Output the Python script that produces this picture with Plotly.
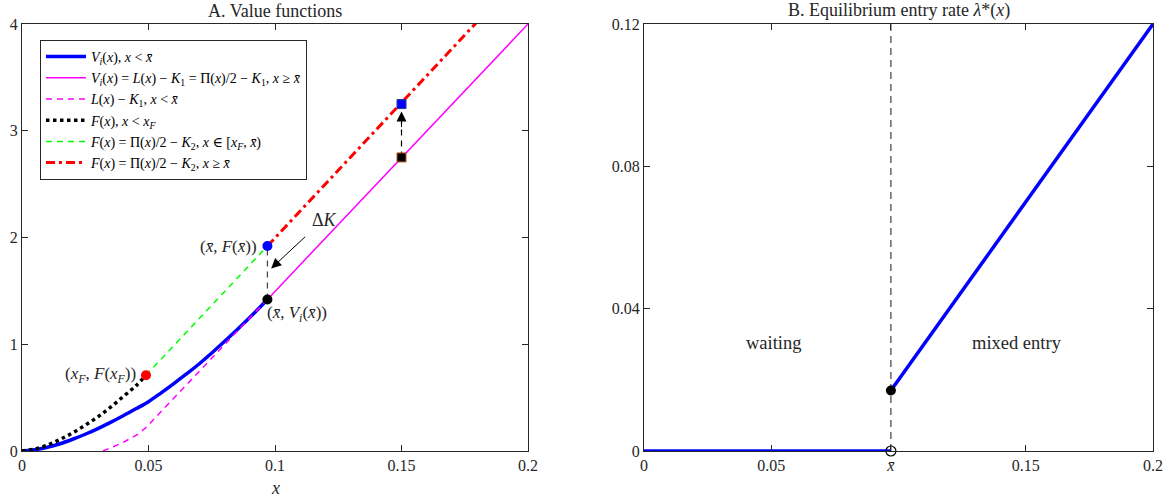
import plotly.graph_objects as go

# ---------------- data ----------------
x_bar = 0.097
x_F = 0.049

# Panel A
vi_below_x = [0, 0.005, 0.01, 0.015, 0.02, 0.025, 0.03, 0.035, 0.04, 0.045, 0.05, 0.055,
              0.06, 0.065, 0.07, 0.075, 0.08, 0.085, 0.09, 0.097]
vi_below_y = [0, 0.012, 0.035, 0.068, 0.11, 0.157, 0.21, 0.268, 0.33, 0.395, 0.462, 0.545,
              0.632, 0.722, 0.815, 0.918, 1.025, 1.135, 1.25, 1.42]

vi_above_x = [0.097, 0.2]
vi_above_y = [1.42, 4.0]

l_below_x = [0.032, 0.040, 0.046, 0.049, 0.097]
l_below_y = [0.0, 0.08, 0.16, 0.22, 1.42]

f_below_x = [0, 0.005, 0.01, 0.015, 0.02, 0.025, 0.03, 0.035, 0.04, 0.045, 0.049]
f_below_y = [0, 0.018, 0.055, 0.108, 0.17, 0.242, 0.32, 0.41, 0.51, 0.61, 0.71]

f_mid_x = [0.049, 0.097]
f_mid_y = [0.71, 1.92]

f_above_x = [0.097, 0.2]
f_above_y = [1.92, 4.53]

pt_F_xbar = (0.097, 1.92)
pt_V_xbar = (0.097, 1.42)
pt_F_xF = (0.049, 0.71)
sq_top = (0.15, 3.25)
sq_bot = (0.15, 2.75)

# Panel B
lam_wait_x = [0, 0.097]
lam_wait_y = [0, 0]
lam_mix_x = [0.097, 0.2]
lam_mix_y = [0.017, 0.12]

ticks_A_x = [0, 0.05, 0.1, 0.15, 0.2]
ticks_A_xt = ["0", "0.05", "0.1", "0.15", "0.2"]
ticks_A_y = [0, 1, 2, 3, 4]
ticks_B_x = [0, 0.05, 0.097, 0.15, 0.2]
ticks_B_xt = ["0", "0.05", "<i>x̄</i>", "0.15", "0.2"]
ticks_B_y = [0, 0.04, 0.08, 0.12]
ticks_B_yt = ["0", "0.04", "0.08", "0.12"]

FONT = "Liberation Serif, Times New Roman, DejaVu Serif, serif"
TXT = "#262626"

fig = go.Figure()

# ---------- Panel A traces ----------
fig.add_trace(go.Scatter(x=vi_below_x, y=vi_below_y, mode="lines", line_shape="spline",
    line=dict(color="#0000ff", width=3.5),
    name="<i>V<sub>i</sub></i>(<i>x</i>), <i>x</i> &lt; <i>x̄</i>", xaxis="x", yaxis="y"))
fig.add_trace(go.Scatter(x=vi_above_x, y=vi_above_y, mode="lines",
    line=dict(color="#ff00ff", width=1.5),
    name="<i>V<sub>i</sub></i>(<i>x</i>) = <i>L</i>(<i>x</i>) − <i>K</i><sub>1</sub> = Π(<i>x</i>)/2 − <i>K</i><sub>1</sub>, <i>x</i> ≥ <i>x̄</i>",
    xaxis="x", yaxis="y"))
fig.add_trace(go.Scatter(x=l_below_x, y=l_below_y, mode="lines",
    line=dict(color="#ff00ff", width=1.5, dash="6px,5px"),
    name="<i>L</i>(<i>x</i>) − <i>K</i><sub>1</sub>, <i>x</i> &lt; <i>x̄</i>", xaxis="x", yaxis="y"))
fig.add_trace(go.Scatter(x=f_below_x, y=f_below_y, mode="lines", line_shape="spline",
    line=dict(color="#000000", width=3.5, dash="dot"),
    name="<i>F</i>(<i>x</i>), <i>x</i> &lt; <i>x<sub>F</sub></i>", xaxis="x", yaxis="y"))
fig.add_trace(go.Scatter(x=f_mid_x, y=f_mid_y, mode="lines",
    line=dict(color="#00ff00", width=1.5, dash="6px,5px"),
    name="<i>F</i>(<i>x</i>) = Π(<i>x</i>)/2 − <i>K</i><sub>2</sub>, <i>x</i> ∈ [<i>x<sub>F</sub></i>, <i>x̄</i>)",
    xaxis="x", yaxis="y"))
fig.add_trace(go.Scatter(x=f_above_x, y=f_above_y, mode="lines",
    line=dict(color="#ff0000", width=3, dash="9px,4px,3px,4px"),
    name="<i>F</i>(<i>x</i>) = Π(<i>x</i>)/2 − <i>K</i><sub>2</sub>, <i>x</i> ≥ <i>x̄</i>",
    xaxis="x", yaxis="y"))

# markers panel A
fig.add_trace(go.Scatter(x=[pt_F_xbar[0]], y=[pt_F_xbar[1]], mode="markers",
    marker=dict(color="#0000ff", size=10), showlegend=False, xaxis="x", yaxis="y"))
fig.add_trace(go.Scatter(x=[pt_V_xbar[0]], y=[pt_V_xbar[1]], mode="markers",
    marker=dict(color="#000000", size=10), showlegend=False, xaxis="x", yaxis="y"))
fig.add_trace(go.Scatter(x=[pt_F_xF[0]], y=[pt_F_xF[1]], mode="markers",
    marker=dict(color="#ff0000", size=10), showlegend=False, xaxis="x", yaxis="y"))
fig.add_trace(go.Scatter(x=[sq_top[0]], y=[sq_top[1]], mode="markers",
    marker=dict(color="#0000ff", size=9, symbol="square", line=dict(color="#1f3a93", width=1)),
    showlegend=False, xaxis="x", yaxis="y"))
fig.add_trace(go.Scatter(x=[sq_bot[0]], y=[sq_bot[1]], mode="markers",
    marker=dict(color="#000000", size=9, symbol="square", line=dict(color="#c0501f", width=1)),
    showlegend=False, xaxis="x", yaxis="y"))

# ---------- Panel B traces ----------
fig.add_trace(go.Scatter(x=lam_wait_x, y=lam_wait_y, mode="lines",
    line=dict(color="#0000ff", width=3.5), showlegend=False, xaxis="x2", yaxis="y2", cliponaxis=False))
fig.add_trace(go.Scatter(x=lam_mix_x, y=lam_mix_y, mode="lines",
    line=dict(color="#0000ff", width=3.5), showlegend=False, xaxis="x2", yaxis="y2", cliponaxis=False))
fig.add_trace(go.Scatter(x=[lam_mix_x[0]], y=[lam_mix_y[0]], mode="markers",
    marker=dict(color="#000000", size=10), showlegend=False, xaxis="x2", yaxis="y2"))
fig.add_trace(go.Scatter(x=[lam_wait_x[1]], y=[lam_wait_y[1]], mode="markers",
    marker=dict(color="rgba(0,0,0,0)", size=10, line=dict(color="#000000", width=1.2)),
    showlegend=False, xaxis="x2", yaxis="y2", cliponaxis=False))

shapes = [
    dict(type="line", xref="x", yref="y", x0=pt_V_xbar[0], x1=pt_V_xbar[0],
         y0=pt_V_xbar[1], y1=pt_F_xbar[1], line=dict(color="#404040", width=1.2, dash="6px,5px"), layer="below"),
    dict(type="line", xref="x", yref="y", x0=sq_bot[0], x1=sq_bot[0],
         y0=sq_bot[1], y1=sq_top[1] - 0.1, line=dict(color="#000000", width=1.2, dash="6px,5px"), layer="below"),
    dict(type="line", xref="x2", yref="y2", x0=x_bar, x1=x_bar, y0=0, y1=0.12,
         line=dict(color="#404040", width=1.2, dash="7px,5px"), layer="below"),
]

ax_common = dict(showline=True, linecolor="#262626", linewidth=1, mirror="ticks",
                 ticks="inside", ticklen=6, tickcolor="#262626", showgrid=False,
                 zeroline=False, automargin=False,
                 tickfont=dict(family=FONT, size=16, color=TXT))

annotations = [
    dict(text="A. Value functions", x=0.2237, y=1.0, xref="paper", yref="paper",
         xanchor="center", yanchor="bottom", yshift=1, showarrow=False,
         font=dict(family=FONT, size=18, color=TXT)),
    dict(text="B. Equilibrium entry rate <i>λ</i>*(<i>x</i>)", x=0.775, y=1.0,
         xref="paper", yref="paper", xanchor="center", yanchor="bottom", yshift=1, showarrow=False,
         font=dict(family=FONT, size=18, color=TXT)),
    dict(text="(<i>x̄</i>, <i>F</i>(<i>x̄</i>))", x=pt_F_xbar[0], y=pt_F_xbar[1], xref="x", yref="y",
         xanchor="right", xshift=-8, showarrow=False, font=dict(family=FONT, size=17, color=TXT)),
    dict(text="(<i>x̄</i>, <i>V<sub>i</sub></i>(<i>x̄</i>))", x=pt_V_xbar[0], y=pt_V_xbar[1], xref="x", yref="y",
         xanchor="left", yanchor="top", xshift=-2, yshift=-2, showarrow=False,
         font=dict(family=FONT, size=17, color=TXT)),
    dict(text="(<i>x<sub>F</sub></i>, <i>F</i>(<i>x<sub>F</sub></i>))", x=pt_F_xF[0], y=pt_F_xF[1], xref="x", yref="y",
         xanchor="right", xshift=-8, showarrow=False, font=dict(family=FONT, size=17, color=TXT)),
    dict(text="Δ<i>K</i>", x=0.1195, y=2.16, xref="x", yref="y", xanchor="center",
         showarrow=False, font=dict(family=FONT, size=18, color=TXT)),
    dict(text="", x=0.0985, y=1.71, ax=0.1125, ay=2.02, xref="x", yref="y", axref="x", ayref="y",
         showarrow=True, arrowhead=2, arrowsize=2, arrowwidth=1, arrowcolor="#000000"),
    dict(text="", x=0.15, y=3.18, ax=0.15, ay=3.02, xref="x", yref="y", axref="x", ayref="y",
         showarrow=True, arrowhead=2, arrowsize=2, arrowwidth=1, arrowcolor="#000000"),
    dict(text="<i>x</i>", x=0.2237, y=-0.0867, xref="paper", yref="paper",
         xanchor="center", yanchor="middle",
         showarrow=False, font=dict(family=FONT, size=18, color=TXT)),
    dict(text="waiting", x=0.051, y=0.0303, xref="x2", yref="y2", showarrow=False,
         font=dict(family=FONT, size=18.5, color=TXT)),
    dict(text="mixed entry", x=0.1466, y=0.0303, xref="x2", yref="y2", showarrow=False,
         font=dict(family=FONT, size=18.5, color=TXT)),
]

fig.update_layout(
    width=1171, height=498,
    margin=dict(l=22, r=18, t=24, b=47),
    paper_bgcolor="white", plot_bgcolor="white",
    font=dict(family=FONT, size=14, color=TXT),
    xaxis=dict(domain=[0, 0.4474], range=[0, 0.2], tickvals=ticks_A_x, ticktext=ticks_A_xt, **ax_common),
    yaxis=dict(range=[0, 4], tickvals=ticks_A_y, **ax_common),
    xaxis2=dict(domain=[0.55, 1], range=[0, 0.2], tickvals=ticks_B_x, ticktext=ticks_B_xt,
                anchor="y2", **ax_common),
    yaxis2=dict(range=[0, 0.12], tickvals=ticks_B_y, ticktext=ticks_B_yt, anchor="x2", **ax_common),
    legend=dict(x=0.0159, y=0.9625, xanchor="left", yanchor="top", bgcolor="white",
                bordercolor="#262626", borderwidth=1, itemwidth=40, tracegroupgap=0,
                font=dict(family=FONT, size=14, color="#000000")),
    shapes=shapes, annotations=annotations,
)

fig.write_html("out.html", config={"displayModeBar": False},
               post_script="document.body.style.margin='0';document.body.style.padding='0';")
